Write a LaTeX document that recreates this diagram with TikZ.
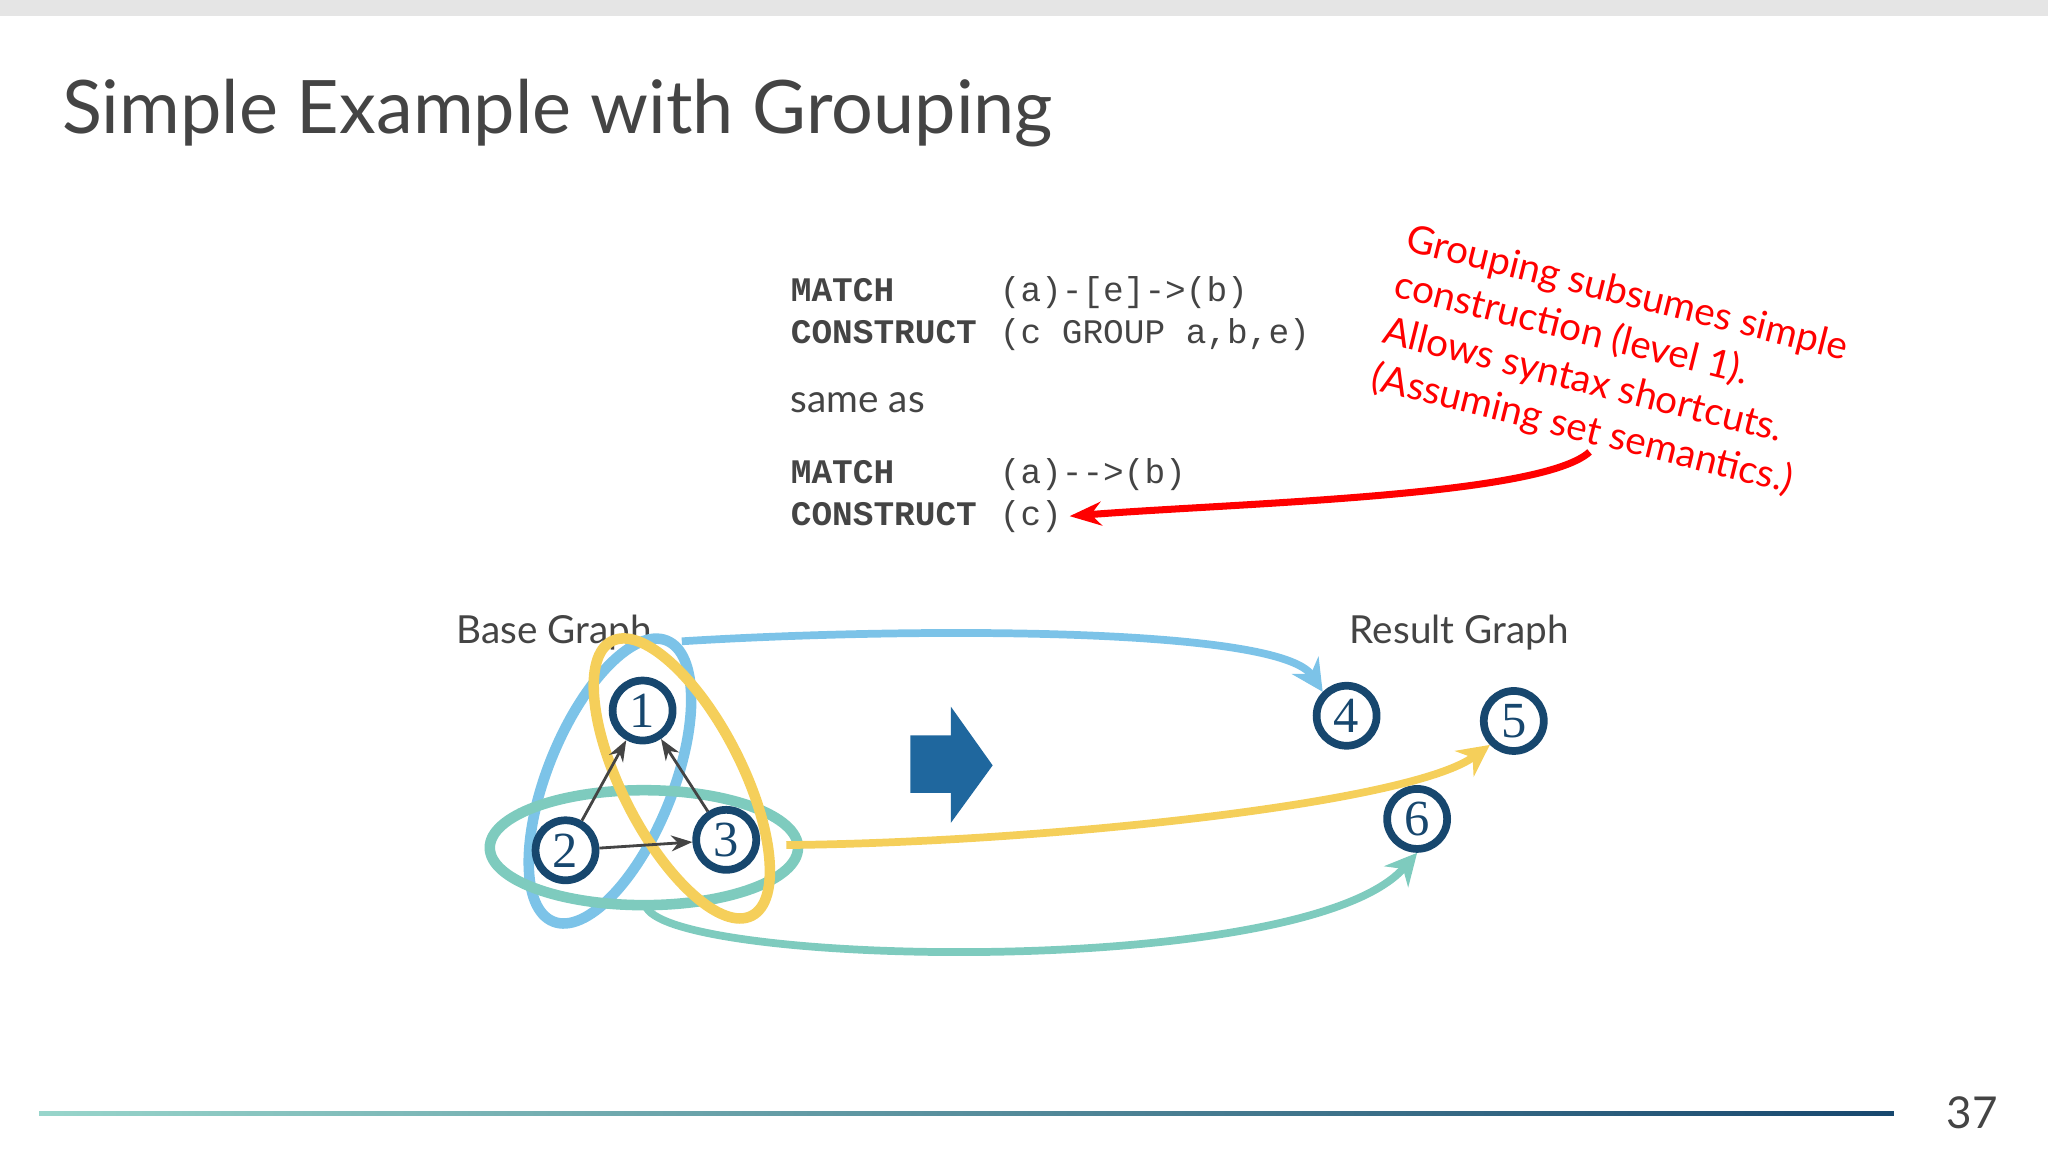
\documentclass[tikz,border=0pt]{standalone}
\usepackage{fontspec}
\setmainfont{Lato}
\newfontfamily\codefont{Liberation Mono}
\newfontfamily\numfont{Liberation Serif}
\usetikzlibrary{arrows.meta}
\definecolor{nodeblue}{HTML}{17476E}
\definecolor{grpblue}{HTML}{7CC3E8}
\definecolor{grpyellow}{HTML}{F5CF5A}
\definecolor{grpteal}{HTML}{7ECBBE}
\definecolor{bigarrow}{HTML}{1F679E}
\definecolor{txtgrey}{HTML}{444444}
\begin{document}
\begin{tikzpicture}[x=0.01306cm, y=-0.01306cm,
    gnode/.style={circle, draw=nodeblue, line width=2.2pt, fill=white, minimum size=0.6cm, inner sep=0pt, font=\numfont\Large, text=nodeblue},
    edge/.style={-{Stealth[length=6pt]}, thick, draw=txtgrey},
    code/.style={anchor=base west, inner sep=0pt, font=\codefont\fontsize{9.8}{12}\selectfont, text=txtgrey},
    codeb/.style={code, font=\codefont\bfseries\fontsize{9.8}{12}\selectfont},
    label/.style={anchor=base west, inner sep=0pt, font=\fontsize{11}{13}\selectfont, text=txtgrey},
    group/.style={line width=3pt},
    link/.style={-{Stealth[length=9pt,width=9pt]}, line width=2.2pt}
]
\useasboundingbox (0,0) rectangle (1568,882);
\fill[black!10] (0,0) rectangle (1568,12);
\node[anchor=base west, inner sep=0pt, font=\fontsize{21}{25}\selectfont, text=txtgrey] (title) at (47,102) {Simple Example with Grouping};

% query text
\node[codeb] (m1) at (605,231) {MATCH};
\node[codeb] (c1) at (605,263) {CONSTRUCT};
\node[code] (m1r) at (765,231) {(a)-[e]->(b)};
\node[code] (c1r) at (765,263) {(c GROUP a,b,e)};
\node[label] (same) at (605,316) {same as};
\node[codeb] (m2) at (605,370) {MATCH};
\node[codeb] (c2) at (605,402) {CONSTRUCT};
\node[code] (m2r) at (765,370) {(a)-{}->(b)};
\node[code] (c2r) at (765,402) {(c)};

% remark
\node[rotate=-14, anchor=north west, align=left, text=red, font=\fontsize{11}{13.5}\selectfont, inner sep=0pt] (note) at (1080,170)
  {Grouping subsumes simple\\construction (level 1).\\Allows syntax shortcuts.\\(Assuming set semantics.)};
\coordinate (nstart) at (1217,346);
\draw[-{Stealth[length=9pt]}, red, line width=2pt] (nstart) .. controls (1180,380) and (950,385) .. ([xshift=2pt]c2r.east);

% labels
\node[label] (bg) at (349,493) {Base Graph};
\node[label] (rg) at (1033,493) {Result Graph};

% groupings
\draw[group, grpblue] (467,598) ellipse [x radius=48, y radius=116, rotate=-22];
\draw[group, grpteal] (493,649) ellipse [x radius=118, y radius=44];
\draw[group, grpyellow] (522,596) ellipse [x radius=46, y radius=118, rotate=27];

% nodes
\node[gnode] (n1) at (492,544) {1};
\node[gnode] (n2) at (433,651) {2};
\node[gnode] (n3) at (556,643) {3};
\node[gnode] (n4) at (1031,548) {4};
\node[gnode] (n5) at (1159,552) {5};
\node[gnode] (n6) at (1085,627) {6};

\draw[edge] (n2) -- (n1);
\draw[edge] (n3) -- (n1);
\draw[edge] (n2) -- (n3);

% mapping arrows
\coordinate (sb) at (522,491);
\coordinate (sy) at (602,647);
\coordinate (st) at (495,695);
\draw[link, grpblue] (sb) .. controls (700,480) and (980,480) .. (n4.north west);
\draw[link, grpyellow] (sy) .. controls (800,645) and (1080,615) .. (n5.south west);
\draw[link, grpteal] (st) .. controls (520,740) and (1000,750) .. (n6.south);

% big arrow
\fill[bigarrow] (697,563) -- (728,563) -- (728,541) -- (760,586) -- (728,630) -- (728,607) -- (697,607) -- cycle;

% footer
\shade[left color=grpteal!80, right color=nodeblue] (30,851) rectangle (1450,854);
\node[anchor=base east, inner sep=0pt, font=\fontsize{12.5}{15}\selectfont, text=txtgrey] (page) at (1530,864) {37};
\end{tikzpicture}
\end{document}
